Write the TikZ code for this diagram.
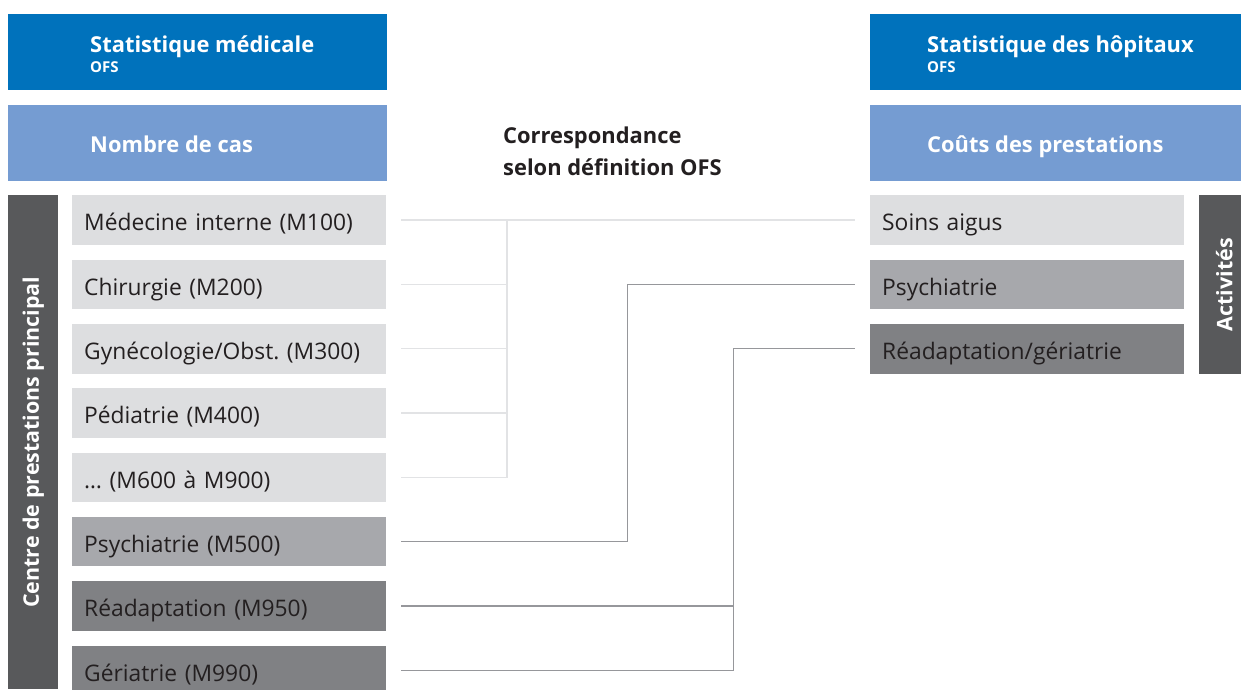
\documentclass[tikz,border=0pt]{standalone}
\usepackage{fontspec}
\setmainfont{Open Sans}
\usetikzlibrary{positioning}
\frenchspacing

\definecolor{ofsblue}{RGB}{0,114,188}
\definecolor{ofslight}{RGB}{117,156,210}
\definecolor{bardark}{RGB}{88,89,91}
\definecolor{itemlight}{RGB}{221,222,224}
\definecolor{itemmid}{RGB}{167,168,172}
\definecolor{itemdark}{RGB}{128,129,132}
\definecolor{linelight}{RGB}{226,227,229}
\definecolor{linedark}{RGB}{150,151,155}
\definecolor{txtdark}{RGB}{35,31,32}

\begin{document}
\begin{tikzpicture}[
        x=1pt, y=-1pt,
        head/.style={fill=ofsblue, inner sep=0pt, minimum height=76pt, anchor=north west},
        subhead/.style={fill=ofslight, inner sep=0pt, minimum height=76pt, anchor=north west},
        htxt/.style={text=white, inner sep=0pt, anchor=base west, font=\bfseries\fontsize{21.9}{26}\selectfont},
        ofs/.style={text=white, inner sep=0pt, anchor=base west, font=\bfseries\fontsize{15}{17}\selectfont},
        item/.style={anchor=north west, inner xsep=12pt, inner ysep=0pt, text width=290pt,
            text height=21.5pt, text depth=0pt,
            minimum height=49.5pt, align=left, text=txtdark, font=\fontsize{22.8}{26}\selectfont},
        bar/.style={fill=bardark, inner sep=0pt, anchor=north west},
        bartxt/.style={rotate=90, text=white, font=\bfseries\fontsize{21.4}{26}\selectfont},
        lnlight/.style={draw=linelight, line width=1.2pt},
        lndark/.style={draw=linedark, line width=1.2pt}
    ]
        \useasboundingbox (0,0) rectangle (1241,689);

        % headers
        \node[head, minimum width=379pt] (smed) at (8,14) {};
        \node[htxt] at ([shift={(82,38)}]smed.north west) {Statistique médicale};
        \node[ofs] at ([shift={(82,58)}]smed.north west) {OFS};
        \node[subhead, minimum width=379pt] (cas) at (8,105) {};
        \node[htxt] at ([shift={(82,47)}]cas.north west) {Nombre de cas};

        \node[head, minimum width=371pt] (shop) at (870,14) {};
        \node[htxt] at ([shift={(57,38)}]shop.north west) {Statistique des hôpitaux};
        \node[ofs] at ([shift={(57,58)}]shop.north west) {OFS};
        \node[subhead, minimum width=371pt] (couts) at (870,105) {};
        \node[htxt] at ([shift={(57,47)}]couts.north west) {Coûts des prestations};

        \node[anchor=base west, inner sep=0pt, align=left, text=txtdark,
            font=\bfseries\fontsize{21.9}{32}\selectfont] (corr) at (503,175)
            {Correspondance\\selon définition OFS};

        % side bars
        \node[bar, minimum width=50pt, minimum height=494pt] (cpp) at (8,195) {};
        \node[bartxt] at (cpp.center) {Centre de prestations principal};
        \node[bar, minimum width=42pt, minimum height=179pt] (act) at (1199,195) {};
        \node[bartxt] at ([xshift=4pt]act.center) {Activités};

        % left column
        \node[item, fill=itemlight] (m100) at (72,195) {Médecine interne (M100)};
        \node[item, fill=itemlight] (m200) at (72,259.5) {Chirurgie (M200)};
        \node[item, fill=itemlight] (m300) at (72,323.8) {Gynécologie/Obst. (M300)};
        \node[item, fill=itemlight] (m400) at (72,388) {Pédiatrie (M400)};
        \node[item, fill=itemlight] (m600) at (72,452.4) {\dots{} (M600 à M900)};
        \node[item, fill=itemmid] (m500) at (72,516.7) {Psychiatrie (M500)};
        \node[item, fill=itemdark] (m950) at (72,581) {Réadaptation (M950)};
        \node[item, fill=itemdark] (m990) at (72,645.3) {Gériatrie (M990)};

        % right column
        \node[item, fill=itemlight] (soins) at (870,195) {Soins aigus};
        \node[item, fill=itemmid] (psy) at (870,259.5) {Psychiatrie};
        \node[item, fill=itemdark] (rea) at (870,323.8) {Réadaptation/gériatrie};

        % correspondence lines
        \coordinate (busA) at (507,220);
        \draw[lnlight] ([xshift=15pt]m100.east) -- ([xshift=-15pt]soins.west);
        \foreach \m in {m200,m300,m400,m600}
            \draw[lnlight] ([xshift=15pt]\m.east) -| (busA);
        \draw[lndark] ([xshift=15pt]m500.east) -- ++(226,0) |- ([xshift=-15pt]psy.west);
        \draw[lndark] ([xshift=15pt]m950.east) -- ++(332,0);
        \draw[lndark] ([xshift=15pt]m990.east) -- ++(332,0) |- ([xshift=-15pt]rea.west);
    \end{tikzpicture}
\end{document}
